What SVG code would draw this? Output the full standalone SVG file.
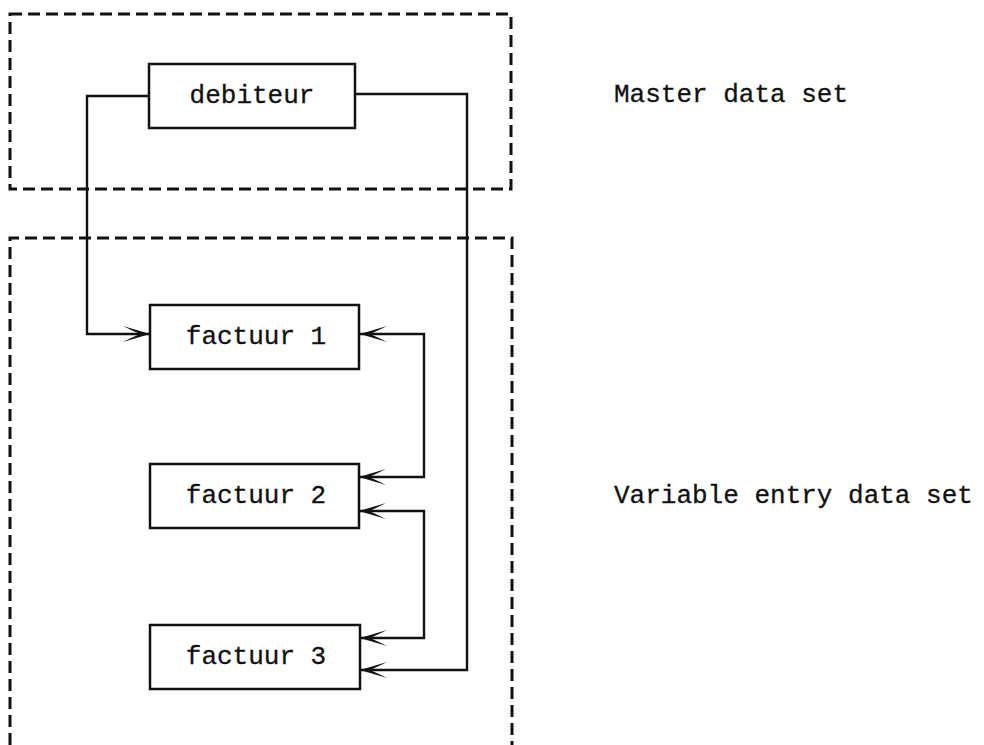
<svg xmlns="http://www.w3.org/2000/svg" width="984" height="745" viewBox="0 0 984 745">
  <style>
    .bg { fill: #ffffff; }
    .group { fill: none; stroke: #111; stroke-width: 3; stroke-dasharray: 12 6; }
    .node rect { fill: #fff; stroke: #111; stroke-width: 2.5; }
    .node text, .label { font-family: "Liberation Mono", "DejaVu Sans Mono", monospace; font-size: 26px; fill: #111; stroke: #111; stroke-width: 0.3; }
    .node text { text-anchor: middle; }
    .conn { fill: none; stroke: #111; stroke-width: 2.4; }
  </style>
  <defs>
    <marker id="arr" viewBox="-30 -9 32 18" refX="0" refY="0" markerWidth="32" markerHeight="18" markerUnits="userSpaceOnUse" orient="auto-start-reverse">
      <path d="M0,0 L-27,-8 Q-16,-2.5 -10,0 Q-16,2.5 -27,8 Z" fill="#111"/>
    </marker>
  </defs>
  <rect class="bg" x="0" y="0" width="984" height="745"/>

  <g id="groups">
    <path class="group" d="M10,14 H511 V189 H10 Z"/>
    <path class="group" d="M10,745 V238 H512 V745"/>
  </g>

  <g id="connectors">
    <path class="conn" d="M149,96 H87 V334 H150" marker-end="url(#arr)"/>
    <path class="conn" d="M355,94 H467 V670 H360" marker-end="url(#arr)"/>
    <path class="conn" d="M360,334 H424 V477 H359" marker-start="url(#arr)" marker-end="url(#arr)"/>
    <path class="conn" d="M359,511 H424 V638 H360" marker-start="url(#arr)" marker-end="url(#arr)"/>
  </g>

  <g id="debiteur" class="node">
    <rect x="149" y="64" width="206" height="64"/>
    <text x="252" y="103">debiteur</text>
  </g>
  <g id="factuur1" class="node">
    <rect x="150" y="305" width="209" height="64"/>
    <text x="256" y="344">factuur 1</text>
  </g>
  <g id="factuur2" class="node">
    <rect x="150" y="464" width="209" height="64"/>
    <text x="256" y="503">factuur 2</text>
  </g>
  <g id="factuur3" class="node">
    <rect x="150" y="625" width="210" height="64"/>
    <text x="256" y="664">factuur 3</text>
  </g>

  <g id="labels">
    <text class="label" x="614" y="102">Master data set</text>
    <text class="label" x="614" y="503">Variable entry data set</text>
  </g>
</svg>
